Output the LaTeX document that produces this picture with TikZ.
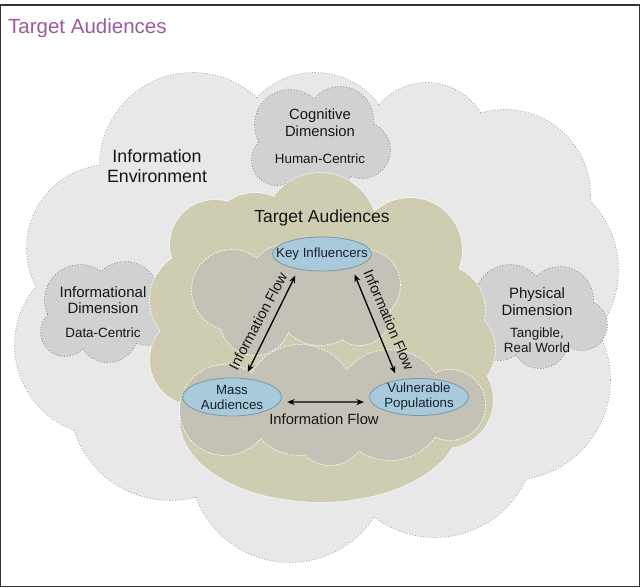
\documentclass[tikz,border=0pt]{standalone}
\usepackage{fontspec}
\setmainfont{Liberation Sans}
\usetikzlibrary{shapes.geometric,arrows.meta}
\definecolor{outerfill}{HTML}{E8E8E8}
\definecolor{outerline}{HTML}{A4A4A4}
\definecolor{dimfill}{HTML}{D1D1D1}
\definecolor{dimline}{HTML}{8C8C8C}
\definecolor{olivefill}{HTML}{CFCDB1}
\definecolor{innerfill}{HTML}{C4C2B6}
\definecolor{ellfill}{HTML}{A8CADB}
\definecolor{ellline}{HTML}{7B97A6}
\definecolor{titlecol}{HTML}{9B5B9F}
\definecolor{txt}{HTML}{161616}
\definecolor{elltxt}{HTML}{16222E}
\newcommand{\fs}[2]{\fontsize{#1}{#2}\selectfont}
\newcommand{\lobepath}[2]{\path[#1] \foreach \cx/\cy/\lr in #2 {(\cx,\cy) circle (\lr pt)};}
\begin{document}
\begin{tikzpicture}[x=1pt,y=-1pt,
  lbl/.style={inner sep=0pt, align=center, text=txt},
  ell/.style={ellipse, draw=ellline, line width=0.8pt, fill=ellfill, inner sep=0pt, minimum width=99pt, minimum height=36pt},
  arr/.style={{Stealth[length=7.5pt,width=6pt]}-{Stealth[length=7.5pt,width=6pt]}, line width=1.3pt, shorten <=7pt, shorten >=7pt},
  grayedge/.style={draw=outerline, line width=1.6pt, dash pattern=on 1.2pt off 1.6pt},
  dimedge/.style={draw=dimline, line width=1.6pt, dash pattern=on 1.2pt off 1.6pt},
  whiteedge/.style={draw=white, line width=1.8pt, dash pattern=on 1.3pt off 1.7pt},
]
\useasboundingbox (0,0) rectangle (642,588);
\fill[white] (0,0) rectangle (642,588);
\draw[line width=1.2pt, draw=black!80] (0.8,5) rectangle (639.4,586.6);
\node[anchor=base west, inner sep=0pt, text=titlecol, font=\fs{20.5}{24}] (title) at (8,33.5) {Target Audiences};

% outer cloud
\def\outerlobes{110/248/83, 105/345/90, 193/166/93, 315/152/79, 427/145/62, 505/195/85, 520/270/98, 510/380/100, 435/437/100, 290/462/100, 170/400/100}
\lobepath{grayedge}{\outerlobes}
\lobepath{fill=outerfill}{\outerlobes}
\fill[outerfill] (110,248)--(193,166)--(315,152)--(427,145)--(505,195)--(520,270)--(510,380)--(435,437)--(290,462)--(170,400)--(105,345)--cycle;

% dimension clouds
\def\coglobes{290/125/35, 340/120/33, 362/150/28, 277/160/25, 320/165/32, 320/145/35}
\lobepath{dimedge}{\coglobes}
\lobepath{fill=dimfill}{\coglobes}
\def\inflobes{80/300/35, 125/295/33, 65/332/24, 108/332/30, 148/320/25, 105/315/30}
\lobepath{dimedge}{\inflobes}
\lobepath{fill=dimfill}{\inflobes}
\def\phylobes{510/300/35, 560/300/33, 582/325/25, 540/340/28, 500/335/25, 540/320/30}
\lobepath{dimedge}{\phylobes}
\lobepath{fill=dimfill}{\phylobes}

% target audiences cloud
\def\olivelobes{320/230/57, 215/245/45, 255/240/47, 410/250/52, 440/310/45, 450/350/45, 445/400/48, 200/300/50, 195/360/45, 230/430/42}
\lobepath{whiteedge}{\olivelobes}
\path[whiteedge] (320,420) ellipse [x radius=140pt, y radius=82pt];
\lobepath{fill=olivefill}{\olivelobes}
\fill[olivefill] (320,420) ellipse [x radius=140pt, y radius=82pt];
\fill[olivefill] (215,245)--(255,240)--(320,230)--(410,250)--(440,310)--(450,350)--(445,400)--(320,420)--(195,360)--(200,300)--cycle;

% inner clouds
\def\toplobes{232/290/40, 285/280/35, 365/285/35, 320/300/45, 255/320/35, 360/315/30}
\lobepath{whiteedge}{\toplobes}
\lobepath{fill=innerfill}{\toplobes}
\def\botlobes{225/410/45, 300/400/55, 390/405/55, 450/405/35, 330/430/35}
\lobepath{whiteedge}{\botlobes}
\lobepath{fill=innerfill}{\botlobes}

% texts
\node[lbl, font=\fs{17.8}{20}] (env) at (157,166) {Information\\Environment};
\node[lbl, font=\fs{14.8}{17}] (cog) at (320,122.5) {Cognitive\\Dimension};
\node[lbl, font=\fs{13.4}{15}] (cogs) at (320,159) {Human-Centric};
\node[lbl, font=\fs{15}{16.5}] (inf) at (103,300) {Informational\\Dimension};
\node[lbl, font=\fs{13.4}{15}] (infs) at (103,333) {Data-Centric};
\node[lbl, font=\fs{15}{16.5}] (phy) at (537,301.5) {Physical\\Dimension};
\node[lbl, font=\fs{13.4}{15}] (phys) at (537,340.5) {Tangible,\\Real World};
\node[lbl, font=\fs{17.5}{20}] (ta) at (322,218) {Target Audiences};

% audiences
\node[ell, minimum height=34pt, label={[lbl, text=elltxt, font=\fs{13.3}{15}]center:Key Influencers}] (key) at (322,254) {};
\node[ell, minimum height=38pt, label={[lbl, text=elltxt, font=\fs{13.3}{15}]center:Mass\\Audiences}] (mass) at (232,397) {};
\node[ell, minimum height=37pt, label={[lbl, text=elltxt, font=\fs{13.3}{15}]center:Vulnerable\\Populations}] (vuln) at (419,397) {};

\draw[arr] (mass.56) -- (key.213);
\draw[arr] (key.335) -- (vuln.141);
\draw[arr] (mass.-6) -- (vuln.186);

\node[lbl, font=\fs{14.6}{16}, rotate=62] (fl1) at (258,321) {Information Flow};
\node[lbl, font=\fs{14.6}{16}, rotate=-67] (fl2) at (389,320) {Information Flow};
\node[lbl, font=\fs{14.8}{16}] (fl3) at (324,419) {Information Flow};
\end{tikzpicture}
\end{document}
